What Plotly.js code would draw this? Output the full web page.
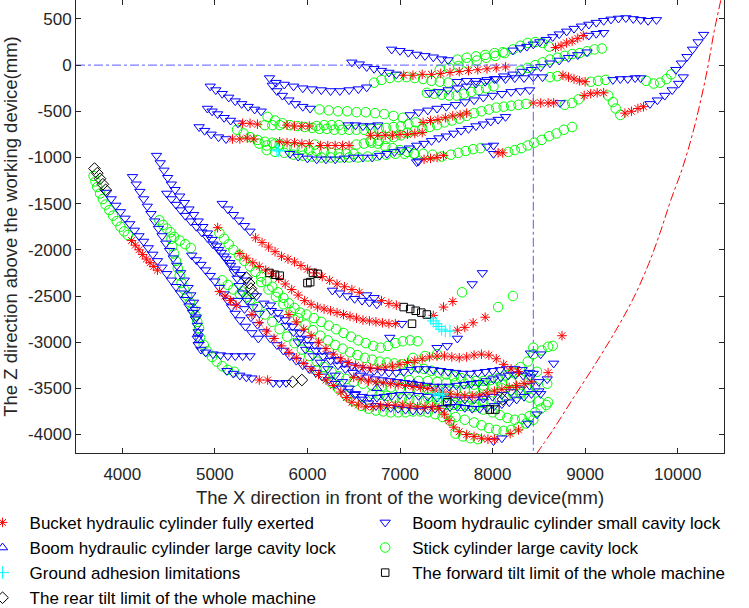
<!DOCTYPE html>
<html>
<head>
<meta charset="utf-8">
<script src="https://cdn.plot.ly/plotly-3.0.1.min.js"></script>
<style>
  html, body { margin: 0; padding: 0; background: #fff; }
  #myDiv { width: 749px; height: 608px; }
</style>
</head>
<body>
<div id="myDiv"></div>
<script>
// points, [x, z] in mm

// Boom hydraulic cylinder small cavity lock (down triangles)
var boomSmallUpper = [
  [6910,170],[7000,155],[7090,135],[7180,115],[7270,100],[7360,85],[7450,65],[7520,55],
  [8220,160],[8300,185],[8370,200],[8440,225],[8510,250],[8580,275],[8650,305],[8720,335],[8800,365],[8880,395],[8960,420],[9040,440],[9120,460],[9200,480],[9280,495],[9360,505],[9440,510],[9520,500],[9600,490],[9680,480],[9770,490],
  [4950,-230],[5010,-270],[5080,-310],[5150,-350],[5220,-390],[5290,-420],[5360,-450],[5430,-480],[5500,-500],
  [5590,-140],[5660,-190],[5750,-210],[5850,-230],[5950,-250],[6050,-260],[6150,-270],[6250,-280],[6350,-280],[6450,-270],[6550,-260],[6640,-240],[7620,-180],[7720,-170],[7820,-170],
  [7940,-160],[8040,-150],[8140,-150],[8240,-140],[8340,-140],[8440,-130],[8540,-130],[9300,-160],[9380,-150],[9460,-150],[9540,-140],[9600,-140],
  [9980,-50],[10040,20],[10100,90],[10160,170],[10220,250],[10280,330],
  [6480,30],[6560,10],[6640,-20],[6720,-40],[6800,-60],[6880,-80],[6960,-100],
  [9040,320],[9120,340],[9200,350],
  [7320,-300],[7420,-290],[7520,-270],[7620,-250],[7720,-230],[7820,-200],[7920,-180],[8020,-150],[8120,-120],[8220,-100],[8320,-70],[8420,-50],[8520,-20],[8620,20],[8720,50],[8820,80],[8920,110],[9020,140],
  [5620,-220],[5670,-280],[5730,-330],[5800,-380],[5870,-420],[5950,-450],[6030,-470],
  [7110,-540],[7200,-510],[7300,-490],[7400,-470],[7500,-450],[7600,-430],[7700,-400],[7800,-380],[7900,-350],[8000,-330],[8100,-310],[8200,-290],[8300,-280],[8400,-270],
  [4920,-470],[4970,-500],[5030,-530],[5100,-570],[5170,-600],[5250,-630],[6440,-650],[6520,-650],[6600,-660],[6680,-660],[6760,-650],
  [4830,-670],[4890,-710],[4960,-750],[5040,-780],[5120,-800],
  [8730,-410],[9700,-420],[9780,-380],[9860,-330],[9940,-270],[10010,-200],[10060,-130],
  [5810,-960],[5900,-990],[6000,-1010],[6100,-1020],[6200,-1020],[6300,-1020],[6400,-1010],[6500,-1000],[6600,-1000],
  [6700,-1000],[6780,-980],[6860,-960],[6940,-940],[7020,-920],[7100,-900],[7180,-870],[7260,-850],[7340,-820],[7420,-790],[7500,-770],[7580,-740],[7660,-710],[7740,-690],[7820,-660],[7900,-640],[7980,-610],[8060,-590],[8140,-560],
  [7180,-1050],[7200,-1040],[7940,-880],[8010,-870],[8010,-960]
];
var boomSmallLower = [
  [3830,-1380],[3880,-1450],[3930,-1520],[3980,-1590],[4030,-1660],[4080,-1720],[4130,-1790],[4180,-1850],[4230,-1910],[4280,-1980],[4330,-2050],[4380,-2120],[4430,-2190],[4480,-2260],[4530,-2330],[4580,-2400],[4630,-2470],[4680,-2540],[4720,-2610],[4760,-2680],[4790,-2750],[4810,-2820],[4820,-2890],[4810,-2960],[4820,-3030],[4850,-3080],[4900,-3110],[4980,-3130],[5060,-3140],[5140,-3150],[5220,-3150],[5300,-3150],[5380,-3150],
  [5130,-3310],[5200,-3340],[5270,-3360],[5340,-3380],[5400,-3390],[5630,-3440],[5700,-3445],[5770,-3440],
  [4110,-1210],[4150,-1290],[4190,-1370],[4230,-1450],[4270,-1530],[4310,-1610],[4350,-1690],[4390,-1770],[4430,-1850],[4470,-1930],[4510,-2010],[4550,-2090],[4590,-2170],[4630,-2250],[4670,-2330],[4710,-2410],[4740,-2490],[4770,-2570],[4790,-2650],[4800,-2730],
  [4370,-980],[4410,-1060],[4450,-1140],[4490,-1220],[4530,-1290],[4570,-1350],[4620,-1420],[4670,-1490],[4720,-1560],[4770,-1620],[4820,-1690],[4870,-1750],[4920,-1820],[4970,-1890],[5020,-1960],[5070,-2030],[5120,-2100],[5170,-2170],[5210,-2240],[5240,-2310],[5260,-2390],[5300,-2470],[5350,-2550],[5410,-2620],[5480,-2690],
  [4480,-1390],[4530,-1450],[4580,-1510],[4630,-1570],[4680,-1630],[4740,-1690],[4800,-1750],[4860,-1810],[4920,-1870],[4980,-1940],[5040,-2000],[5100,-2070],[5160,-2140],[5220,-2210],[5280,-2270],[5340,-2330],
  [4750,-2060],[4800,-2110],[4850,-2160],[4900,-2220],[4950,-2280],[5000,-2340],[5050,-2410],[5100,-2480],[5140,-2550],[5180,-2620],[5220,-2690],[5270,-2760],[5330,-2830],[5400,-2900],[5470,-2960],
  [5080,-1500],[5140,-1560],[5200,-1620],[5260,-1680],[5320,-1740],[5380,-1800],[6640,-2490],[6720,-2520],[7020,-2800],
  [6270,-2440],[6350,-2470],[6430,-2500],[6510,-2530],[6590,-2550],[6670,-2570],[6750,-2590],
  [7780,-2370],[7890,-2250],[6890,-2950],[7400,-3060],[7510,-3040],[7620,-2960],
  [5250,-2550],[5320,-2640],[5390,-2730],[5460,-2810],[5530,-2890],[5600,-2960],[5670,-3030],[5740,-3090],[5810,-3150],[5880,-3200],[5950,-3250],[6020,-3290],[6090,-3330],[6160,-3370],[6230,-3410],[6300,-3450],[6370,-3500],[6440,-3540],[6510,-3570],[6590,-3590],[6670,-3600],[6750,-3600],[6830,-3590],[6910,-3580],[7000,-3570],[7100,-3570],[7200,-3580],[7300,-3590],[7400,-3600],[7500,-3610],[7600,-3620],[7700,-3620],[7800,-3620],[7900,-3610],[8000,-3590],[8100,-3570],[8200,-3540],[8300,-3510],[8400,-3470],[8500,-3430],
  [5600,-2600],[5680,-2680],[5760,-2760],[5840,-2830],[5920,-2900],[6000,-2970],[6080,-3030],[6160,-3090],[6240,-3140],[6320,-3190],[6400,-3230],[6480,-3260],[6560,-3280],[6640,-3300],[6720,-3310],[6800,-3320],[6880,-3330],[6960,-3330],[7040,-3320],[7120,-3300],[7200,-3290],[7280,-3290],[7360,-3300],[7440,-3310],[7520,-3320],[7600,-3330],[7680,-3340],[7760,-3340],[7840,-3330],[7920,-3320],[8000,-3310],[8080,-3300],[8160,-3290],[8240,-3290],[8320,-3300],[8400,-3330],
  [5900,-3000],[5980,-3080],[6060,-3150],[6140,-3220],[6220,-3290],[6300,-3360],[6380,-3430],[6450,-3500],[6520,-3560],[6590,-3620],[6660,-3660],[6740,-3690],[6820,-3700],[6900,-3710],[6980,-3720],[7060,-3730],[7140,-3740],[7220,-3740],[7300,-3730],[7380,-3720],[7460,-3710],[7540,-3700],[7620,-3700],[7700,-3710],[7780,-3720],[7860,-3720],[7940,-3710],[8020,-3690],[8100,-3670],[8180,-3650],[8260,-3620],[8340,-3590],[8420,-3560],[8500,-3530],
  [5450,-2500],[5530,-2580],[5610,-2660],[5690,-2740],[5770,-2820],[5850,-2890],[5930,-2960],[6010,-3030],[6090,-3090],[6170,-3150],[6250,-3200],[6330,-3250],[6410,-3290],[6490,-3330],[6570,-3360],[6650,-3380],[6730,-3400],[6810,-3410],[6890,-3420],[6970,-3430],[7050,-3440],[7130,-3450],[7210,-3460],[7290,-3470],[7370,-3480],[7450,-3480],[7530,-3480],[7610,-3470],[7690,-3460],[7770,-3450],[7850,-3440],[7930,-3420],[8010,-3400],[8090,-3380],[8170,-3360],[8250,-3350],[8330,-3360],[8410,-3380],
  [8410,-3120],[8520,-3560],[8590,-3400],[8660,-3230],[8440,-3340],[8480,-3780],[8380,-3880],[8520,-3130],[8010,-4070],[8100,-4040]
];

// Boom hydraulic cylinder large cavity lock (up triangles)
var boomLarge = [[4820,-2900],[4830,-2980],[6750,-3500],[7150,-3450],[7900,-3600]];

// Stick cylinder large cavity lock (circles)
var stickUpper = [
  [7620,60],[7720,80],[7820,95],[7920,110],[8020,130],[8110,140],
  [6720,-190],[6800,-160],[6890,-140],[6980,-130],[7070,-130],[7160,-140],[7250,-150],[7340,-170],[7430,-180],[7520,-190],
  [8620,-130],[8700,-120],[9060,-180],[9140,-170],[9220,-160],[9660,-170],[9740,-200],[9810,-190],[9880,-150],[9930,-100],
  [7430,-50],[7530,-30],[7630,-10],[7730,20],[7830,50],[7930,80],[8030,100],[8130,130],[8220,170],[8300,210],[8380,240],[8460,250],[8540,240],[8610,200],
  [8300,-60],[8380,-30],[8460,0],[8540,30],[8620,60],[8700,80],[8780,100],[8860,120],[8940,130],[9020,150],[9100,170],[9180,180],
  [6130,-480],[6230,-490],[6330,-500],[6430,-500],[6530,-510],[6630,-510],[6730,-520],[6830,-530],[6930,-550],[7030,-570],
  [5540,-650],[5620,-650],[5700,-650],[6100,-660],[6180,-650],[6260,-650],[6340,-650],
  [5480,-850],[5560,-870],[5640,-860],[6080,-860],[6530,-860],[6610,-850],[6690,-840],[6770,-820],[6850,-800],[6930,-780],[7010,-760],
  [5560,-920],[5650,-940],[5750,-950],[5850,-970],[5950,-980],[6050,-990],[6150,-1000],[6250,-1000],[6350,-1000],[6450,-1000],[6550,-1000],[6650,-990],[6750,-980],[6850,-970],[6950,-960],[7050,-960],[7150,-960],[7250,-960],[7350,-970],[7450,-990],
  [7550,-970],[7630,-950],[7710,-930],[7790,-910],[7870,-900],
  [8170,-940],[8240,-920],[8310,-900],[8380,-870],[8450,-840],[8530,-810],[8610,-770],[8690,-740],[8770,-700],[8860,-670],
  [7080,-730],[7160,-710],[7240,-690],[7320,-670],[7400,-650],[7480,-620],[7560,-600],[7640,-580],[7720,-550],[7800,-520],[7880,-500],[7960,-480],[8040,-460],[8120,-450],[8200,-440],[8280,-430],[8360,-420],
  [8780,-430],[8860,-410],[8930,-370],[9250,-330],[9300,-400],[9330,-470],[9380,-540],
  [6680,-820],[6760,-850],[6840,-880],[6920,-900],[7000,-920],[7080,-940],[7160,-960],
  [5570,-560],[5650,-600],[5730,-630],[5810,-650],[5890,-660],[5970,-670],[6050,-680],[6130,-690],[6210,-690],[6290,-700],[6370,-700],[6450,-700],[6530,-700],[6610,-700],[6690,-690],[6770,-690],[6850,-680],[6930,-670],[7010,-660],[7090,-640],[7170,-620],
  [5240,-700],[5310,-740],[5380,-780],[5460,-810],[5540,-830],[5620,-840],[5700,-860],[5780,-880],[5860,-900],[5940,-910],[6020,-920],[6100,-930],[6180,-940],[6260,-950],[6340,-960],[6420,-960],[6500,-960],
  [7290,-300],[7370,-310],[7450,-320],[7530,-330],[7610,-330],[7690,-310],[7770,-290],[7850,-270],[7930,-250],[8010,-230]
];
var stickLower = [
  [3690,-1200],[3710,-1260],[3730,-1320],[3760,-1390],[3790,-1450],[3820,-1510],[3860,-1570],[3900,-1630],[3940,-1690],[3980,-1750],[4020,-1800],[4060,-1840],
  [4840,-2950],[4880,-3030],[4920,-3100],[4970,-3160],[5020,-3210],[5080,-3260],[5140,-3300],[5210,-3320],
  [4400,-1680],[4440,-1730],[4480,-1770],[4520,-1810],[4530,-1880],[4540,-1960],[4560,-2040],[4580,-2120],[4600,-2200],[4620,-2280],[4640,-2360],[4670,-2430],[4700,-2500],[4730,-2570],[4760,-2640],[4790,-2710],[4810,-2780],[4830,-2850],
  [4560,-1860],[4620,-1900],[4680,-1940],[4740,-1980],
  [5050,-1820],[5100,-1880],[5150,-1940],[5200,-2000],[5260,-2060],[5320,-2120],[5380,-2180],[5440,-2240],[5500,-2290],[5560,-2340],[5620,-2400],[5680,-2460],[5740,-2520],[5800,-2580],[5860,-2630],[5920,-2680],
  [5080,-2330],[5140,-2380],[5200,-2430],[5270,-2480],[5340,-2510],
  [5990,-2700],[6070,-2740],[6150,-2780],[6230,-2820],[6310,-2860],[6390,-2900],[6470,-2940],[6550,-2980],[6630,-3010],[6710,-3040],[6790,-3060],[6870,-3040],[6950,-3010],[7030,-2990],[7110,-2980],[7190,-2990],
  [7670,-2460],[8060,-2620],[8220,-2500],[7140,-3170],[7270,-3150],[7400,-3130],[8530,-3090],[8440,-3060],[8590,-3450],[8600,-3650],[8650,-3040],
  [5300,-2450],[5380,-2540],[5460,-2620],[5540,-2700],[5620,-2780],[5700,-2860],[5780,-2940],[5860,-3010],[5940,-3080],[6020,-3150],[6100,-3210],[6180,-3270],[6260,-3320],[6340,-3370],[6420,-3400],[6500,-3430],[6600,-3450],[6700,-3470],[6800,-3480],[6900,-3490],[7000,-3500],[7100,-3500],[7200,-3510],[7300,-3510],[7400,-3510],[7500,-3520],[7600,-3520],[7700,-3520],[7800,-3510],[7900,-3500],[8000,-3480],[8100,-3460],[8200,-3430],[8300,-3400],[8400,-3360],[8480,-3320],
  [6100,-3300],[6180,-3370],[6260,-3440],[6340,-3510],[6420,-3580],[6500,-3640],[6580,-3690],[6660,-3720],[6740,-3740],[6820,-3750],[6900,-3760],[6980,-3760],[7060,-3760],[7140,-3750],[7220,-3750],[7300,-3760],[7380,-3780],[7460,-3810],[7540,-3850],[7600,-3990],[7680,-4020],[7760,-4040],[7840,-4050],
  [5500,-2350],[5580,-2430],[5660,-2510],[5740,-2590],[5820,-2670],[5900,-2740],[5980,-2810],[6060,-2870],[6140,-2930],[6220,-2980],[6300,-3030],[6380,-3070],[6460,-3110],[6540,-3140],[6620,-3170],[6700,-3190],[6780,-3210],[6860,-3220],[6940,-3230],[7020,-3240],[7100,-3250],[7180,-3270],[7260,-3290],[7340,-3310],[7420,-3330],[7500,-3350],[7580,-3370],[7660,-3390],[7740,-3410],[7820,-3420],[7900,-3420],[7980,-3410],[8060,-3390],[8140,-3360],[8220,-3320],[8300,-3270],[8380,-3210],[8440,-3130],[8600,-3050],
  [7000,-3400],[7100,-3410],[7200,-3420],[7300,-3420],[7400,-3430],[7500,-3440],[7600,-3440],[7700,-3450],[7800,-3460],[7900,-3470],[8000,-3480],[8100,-3500],[8200,-3520],[8300,-3560],[8400,-3600],[8500,-3640],
  [7300,-3600],[7400,-3620],[7500,-3640],[7600,-3660],[7700,-3680],[7800,-3700],[7900,-3730],[8000,-3760],[8080,-3790],[8160,-3820],[8240,-3840],[8320,-3830],[8400,-3800],[8460,-3760],[8520,-3720],[8580,-3680],
  [7500,-3780],[7600,-3810],[7700,-3840],[7800,-3870],[7880,-3900],[7960,-3930],[8040,-3950],[8120,-3960],[8200,-3950],[8280,-3920],[8360,-3880],[8440,-3840],
  [6700,-3560],[6780,-3570],[6860,-3580],[6940,-3600],[7020,-3610],[7100,-3620],[7180,-3630],[7260,-3640],[7340,-3650],[7420,-3660],[7500,-3670],[7580,-3680],[7660,-3690],[7740,-3690],[7820,-3680],[7900,-3660],[7980,-3640],[8060,-3620],[8140,-3590],[8220,-3560],[8300,-3540],[8380,-3510],[8460,-3480]
];

// Bucket hydraulic cylinder fully exerted (asterisks)
var bucketUpper = [
  [7040,-110],[7140,-110],[7240,-100],[7340,-100],[7440,-90],[7540,-80],[7640,-70],[7740,-60],[7840,-50],[7940,-40],[8040,-30],[8140,-20],
  [8680,190],[8740,210],[8800,240],[8860,260],[8920,290],[8980,320],
  [8760,-110],[8820,-130],[8880,-150],[8940,-170],[9000,-180],
  [5300,-630],[5380,-630],[5460,-640],[5780,-650],[5860,-660],[5940,-660],[6020,-660],
  [5190,-800],[5270,-800],[5350,-790],[5420,-800],[5700,-830],[5780,-840],[5860,-840],[5940,-850],[6020,-850],[6140,-870],[6220,-870],[6300,-870],[6380,-870],[6450,-870],[7080,-750],[7160,-740],[7240,-730],
  [7260,-1020],[7330,-1010],[7400,-1000],[7470,-980],[8060,-950],[8110,-950],
  [6680,-760],[6760,-760],[6840,-760],[6920,-760],[7000,-750],
  [8440,-410],[8520,-410],[8600,-410],[8660,-410],[8990,-330],[9060,-310],[9130,-300],[9200,-300],
  [9430,-520],[9500,-500],[9570,-470],[9630,-450],
  [7250,-620],[7330,-600],[7410,-590],[7490,-570],[7570,-550],[7650,-540],[7720,-520]
];
var bucketLower = [
  [4100,-1900],[4140,-1950],[4180,-2000],[4220,-2050],[4260,-2100],[4300,-2140],[4340,-2180],[4380,-2220],
  [5480,-3410],[5570,-3410],[5030,-1760],[5050,-2450],[5110,-2500],[5170,-2550],[5230,-2600],
  [5440,-1870],[5510,-1920],[5580,-1970],[5650,-2020],[5720,-2070],[5790,-2100],[5860,-2130],[5930,-2170],[6000,-2210],[6080,-2250],[6160,-2290],[6240,-2330],[6320,-2370],[6400,-2400],[6480,-2430],[6560,-2460],[6800,-2550],[6880,-2580],[6960,-2600],
  [7620,-2870],[7700,-2840],[7790,-2790],[7920,-2730],[7360,-2710],[7470,-2620],[7570,-2560],[8750,-2930],
  [5270,-2040],[5340,-2090],[5410,-2140],[5480,-2180],[5550,-2220],[5620,-2260],[5690,-2310],[5760,-2370],[5830,-2430],[5900,-2490],[5970,-2550],[6040,-2590],[6110,-2620],[6180,-2640],[6250,-2660],[6320,-2680],[6390,-2700],[6460,-2720],[6530,-2740],[6600,-2760],[6670,-2770],[6740,-2780],[6810,-2790],[6880,-2800],[6950,-2800],
  [5400,-2700],[5480,-2790],[5560,-2880],[5640,-2960],[5720,-3040],[5800,-3110],[5880,-3170],[5960,-3230],[6040,-3290],[6120,-3350],[6200,-3410],[6280,-3470],[6360,-3540],[6420,-3600],[6480,-3650],[6550,-3680],[6630,-3700],[6710,-3700],[6790,-3690],[6870,-3680],[6950,-3680],[7030,-3680],[7110,-3690],[7190,-3700],[7270,-3700],[7350,-3700],[7420,-3720],[7480,-3780],[7530,-3850],[7580,-3920],[7640,-3970],[7720,-4000],[7800,-4020],[7880,-4040],[7950,-4050],[8020,-4050],
  [5800,-2700],[5880,-2780],[5960,-2860],[6040,-2930],[6120,-3000],[6200,-3070],[6280,-3130],[6360,-3180],[6440,-3220],[6520,-3250],[6600,-3270],[6680,-3280],[6760,-3280],[6840,-3270],[6920,-3260],[7000,-3240],[7080,-3220],[7160,-3200],[7240,-3180],[7320,-3160],[7400,-3150],[7480,-3150],[7560,-3160],[7640,-3170],[7720,-3160],[7800,-3140],[7880,-3130],[7960,-3140],[8040,-3180],[8120,-3240],[8200,-3290],[8280,-3320],
  [6500,-3380],[6580,-3400],[6660,-3420],[6740,-3430],[6820,-3440],[6900,-3450],[6980,-3460],[7060,-3470],[7140,-3480],[7220,-3490],[7300,-3500],[7380,-3520],[7460,-3540],[7540,-3560],[7620,-3570],[7700,-3580],[7780,-3580],[7860,-3570],[7940,-3550],[8020,-3530],[8100,-3510],[8180,-3490],[8260,-3470],[8340,-3450],[8420,-3430],
  [8600,-3330],[8190,-3990],[8280,-3950]
];

// Ground adhesion limitations (plus)
var ground = [[5670,-920],[5690,-930],[7330,-2740],[7360,-2770],[7390,-2800],[7420,-2830],[7450,-2860],[7490,-2880],[7540,-2880],[7380,-3560],[7420,-3580],[7460,-3560]];
// The forward tilt limit of the whole machine (squares)
var forwardTilt = [[5590,-2250],[5650,-2270],[5700,-2280],[6000,-2360],[6030,-2350],[6060,-2250],[6110,-2260],[7040,-2620],[7110,-2640],[7170,-2660],[7230,-2680],[7290,-2700],[7130,-2800],[7510,-3650],[7970,-3730],[8030,-3730]];
// The rear tilt limit of the whole machine (diamonds)
var rearTilt = [[3700,-1120],[3730,-1170],[3760,-1230],[3790,-1290],[3820,-1350],[5340,-2300],[5370,-2360],[5390,-2420],[5410,-2470],[5840,-3430],[5940,-3410],[8110,-3620]];

// reference lines
var reachX = [3500, 8440, 8440];
var reachZ = [0, 0, -4200];
var limitX = [8473, 8646, 8874, 9112, 9330, 9525, 9688, 9818, 9924, 10054, 10162, 10249, 10325, 10390, 10466];
var limitZ = [-4210, -3960, -3602, -3233, -2875, -2517, -2148, -1790, -1465, -1107, -738, -380, -22, 347, 705];

var xTicks = [4000, 5000, 6000, 7000, 8000, 9000, 10000];
var xTickText = ['4000', '5000', '6000', '7000', '8000', '9000', '10000'];
var zTicks = [-4000, -3500, -3000, -2500, -2000, -1500, -1000, -500, 0, 500];
var zTickText = ['-4000', '-3500', '-3000', '-2500', '-2000', '-1500', '-1000', '-500', '0', '500'];

function px(list) { return list.map(function (p) { return p[0]; }); }
function pz(list) { return list.map(function (p) { return p[1]; }); }

var FONT = 'Liberation Sans, Arial, Helvetica, sans-serif';

function series(name, pts, symbol, color, size, legend, rank) {
  return {
    x: px(pts), y: pz(pts),
    name: name,
    mode: 'markers',
    type: 'scatter',
    legend: legend,
    legendrank: rank,
    marker: { symbol: symbol, size: size, color: color, line: { width: 1, color: color } }
  };
}

var stickPts = stickUpper.concat(stickLower);
var boomSmallPts = boomSmallUpper.concat(boomSmallLower);
var bucketPts = bucketUpper.concat(bucketLower);

var data = [
  series('Stick cylinder large cavity lock', stickPts, 'circle-open', 'rgb(0,255,0)', 9.5, 'legend2', 2),
  series('Boom hydraulic cylinder small cavity lock', boomSmallPts, 'triangle-down-open', 'rgb(0,0,255)', 9, 'legend2', 1),
  series('Boom hydraulic cylinder large cavity lock', boomLarge, 'triangle-up-open', 'rgb(0,0,255)', 9, 'legend', 2),
  series('Bucket hydraulic cylinder fully exerted', bucketPts, 'asterisk-open', 'rgb(255,0,0)', 8, 'legend', 1),
  series('Ground adhesion limitations', ground, 'cross-thin-open', 'rgb(0,255,255)', 9, 'legend', 3),
  series('The forward tilt limit of the whole machine', forwardTilt, 'square-open', 'rgb(0,0,0)', 7.5, 'legend2', 3),
  series('The rear tilt limit of the whole machine', rearTilt, 'diamond-open', 'rgb(0,0,0)', 9, 'legend', 4),
  {
    x: reachX, y: reachZ, mode: 'lines', type: 'scatter', showlegend: false,
    line: { color: 'rgb(90,90,255)', width: 1, dash: 'dashdot' }
  },
  {
    x: limitX, y: limitZ, mode: 'lines', type: 'scatter', showlegend: false,
    line: { color: 'rgb(255,0,0)', width: 1, dash: 'dashdot', shape: 'spline' }
  }
];

var axisCommon = {
  showgrid: false,
  zeroline: false,
  showline: true,
  mirror: 'ticks',
  automargin: false,
  linecolor: '#262626',
  linewidth: 1,
  ticks: 'inside',
  ticklen: 5,
  tickcolor: '#262626',
  tickfont: { family: FONT, size: 17, color: '#262626' }
};

var legendCommon = {
  orientation: 'v',
  yanchor: 'top',
  xanchor: 'left',
  bgcolor: 'rgba(0,0,0,0)',
  borderwidth: 0,
  tracegroupgap: 0,
  traceorder: 'normal',
  itemwidth: 44,
  font: { family: FONT, size: 17, color: '#000' }
};

var layout = {
  width: 749,
  height: 608,
  margin: { l: 76, r: 25, t: 0, b: 155, autoexpand: false },
  paper_bgcolor: '#fff',
  plot_bgcolor: '#fff',
  showlegend: true,
  hovermode: false,
  xaxis: Object.assign({}, axisCommon, {
    range: [3500, 10500],
    tickvals: xTicks,
    ticktext: xTickText,
    ticklabelstandoff: 6,
    title: { text: 'The X direction in front of the working device(mm)', font: { family: FONT, size: 18.5, color: '#262626' }, standoff: 7 }
  }),
  yaxis: Object.assign({}, axisCommon, {
    range: [-4200, 705],
    tickvals: zTicks,
    ticktext: zTickText,
    title: { text: 'The Z direction above the working device(mm)', font: { family: FONT, size: 18.5, color: '#262626' }, standoff: 6 }
  }),
  legend: Object.assign({}, legendCommon, { x: -0.155, y: -0.1145 }),
  legend2: Object.assign({}, legendCommon, { x: 0.4355, y: -0.1145 })
};

Plotly.newPlot('myDiv', data, layout, { displayModeBar: false, staticPlot: true });
</script>
</body>
</html>
